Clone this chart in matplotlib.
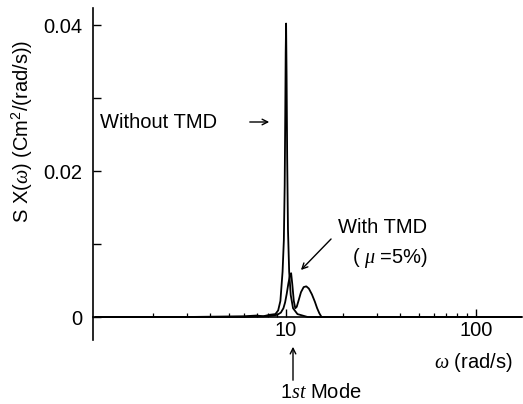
import matplotlib
matplotlib.use("Agg")
import matplotlib.pyplot as plt
from matplotlib.ticker import FixedLocator, NullFormatter

plt.rcParams['font.family'] = ['Liberation Sans', 'DejaVu Sans']
plt.rcParams['mathtext.fontset'] = 'custom'
plt.rcParams['mathtext.rm'] = 'Liberation Sans'
plt.rcParams['mathtext.it'] = 'Liberation Serif:italic'
plt.rcParams['mathtext.bf'] = 'Liberation Sans:bold'

# ---- data ----
omega_without = [1.0, 3.0, 6.0, 7.0, 7.6, 8.2, 8.8, 9.1, 9.35, 9.6, 9.75, 9.85, 9.92,
                 9.97, 10.02, 10.08, 10.15, 10.25, 10.4, 10.6, 10.9, 11.5, 13.0, 175.0]
s_without = [0.0, 0.0, 0.0001, 0.0002, 0.0001, 0.0003, 0.0004, 0.0009, 0.0022, 0.0062,
             0.0105, 0.018, 0.028, 0.0362, 0.0402, 0.033, 0.022, 0.012, 0.0062, 0.003,
             0.0012, 0.0004, 0.0, 0.0]

omega_with = [1.0, 6.0, 8.0, 9.0, 9.4, 9.7, 9.9, 10.1, 10.3, 10.5, 10.65, 10.8, 11.0,
              11.2, 11.4, 11.7, 12.0, 12.4, 12.8, 13.2, 13.7, 14.2, 14.6, 15.0, 15.4, 175.0]
s_with = [0.0, 0.0, 0.0001, 0.0003, 0.0006, 0.0012, 0.002, 0.0032, 0.0046, 0.0057,
          0.0060, 0.0045, 0.0022, 0.0012, 0.0014, 0.0024, 0.0034, 0.0041, 0.0042, 0.0039,
          0.0031, 0.0021, 0.0012, 0.0005, 0.0, 0.0]

x_major = [10, 100]
x_major_labels = ['10', '100']
x_minor = [2, 3, 4, 5, 6, 7, 8, 9, 20, 30, 40, 50, 60, 70, 80, 90]
y_major = [0.0, 0.02, 0.04]
y_major_labels = ['0', '0.02', '0.04']
y_minor = [0.01, 0.03]

W, H = 523, 404
FS = 14.5


def fp(x, y):
    return (x, H - y)


fig = plt.figure(figsize=(W / 100, H / 100), dpi=100)
ax = fig.add_axes([93 / W, 1 - 340 / H, (522 - 93) / W, (340 - 8) / H])
ax.set_xscale('log')
ax.set_xlim(0.964, 175)
ax.set_ylim(-0.00315, 0.04233)

ax.plot(omega_without, s_without, color='black', lw=1.3)
ax.plot(omega_with, s_with, color='black', lw=1.3)

for s in ['top', 'right']:
    ax.spines[s].set_visible(False)
ax.spines['bottom'].set_position(('data', 0))
ax.spines['left'].set_linewidth(1.2)
ax.spines['bottom'].set_linewidth(1.2)

ax.xaxis.set_major_locator(FixedLocator(x_major))
ax.set_xticklabels(x_major_labels)
ax.xaxis.set_minor_locator(FixedLocator(x_minor))
ax.xaxis.set_minor_formatter(NullFormatter())
ax.yaxis.set_major_locator(FixedLocator(y_major))
ax.set_yticklabels(y_major_labels)
ax.yaxis.set_minor_locator(FixedLocator(y_minor))

ax.tick_params(axis='x', which='major', direction='in', length=5.5, width=1.0,
               labelsize=FS, pad=3)
ax.tick_params(axis='x', which='minor', direction='in', length=3, width=0.9)
ax.tick_params(axis='y', which='both', direction='in', length=6, width=1.0,
               labelsize=FS, pad=8)

# axis labels
fig.text(22 / W, 1 - 131 / H, r"S X($\omega$) (Cm$^2$/(rad/s))", rotation=90,
         ha='center', va='center', fontsize=FS)
fig.text(473 / W, 1 - 363 / H, r"$\omega$ (rad/s)", ha='center', va='center', fontsize=FS)

# annotations
fig.text(100 / W, 1 - 122 / H, "Without TMD", ha='left', va='center', fontsize=FS)
ax.annotate('', xy=fp(272, 122), xytext=fp(247, 122), xycoords='figure pixels',
            textcoords='figure pixels',
            arrowprops=dict(arrowstyle='->', lw=1.0, color='black'))

fig.text(338 / W, 1 - 228 / H, "With TMD", ha='left', va='center', fontsize=FS)
fig.text(352 / W, 1 - 258 / H, r"( $\mu$ =5%)", ha='left', va='center', fontsize=FS)
ax.annotate('', xy=fp(299, 272), xytext=fp(333, 237), xycoords='figure pixels',
            textcoords='figure pixels',
            arrowprops=dict(arrowstyle='->', lw=1.0, color='black'))

ax.annotate('', xy=fp(293, 344), xytext=fp(293, 383), xycoords='figure pixels',
            textcoords='figure pixels',
            arrowprops=dict(arrowstyle='->', lw=1.0, color='black'))
fig.text(280 / W, 1 - 393 / H, r"1$\mathit{st}$ Mode", ha='left', va='center', fontsize=FS)

fig.savefig('out.png', dpi=100)
